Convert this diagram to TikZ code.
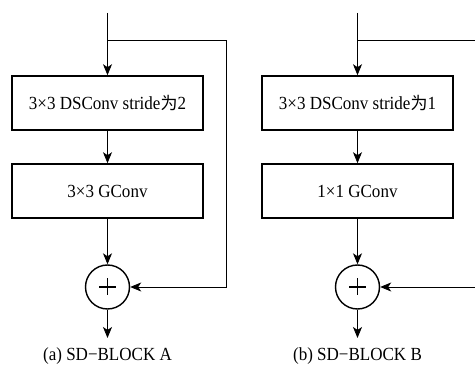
\documentclass[tikz,border=0pt]{standalone}
\usepackage{fontspec}
\setmainfont[FakeStretch=0.92]{Liberation Serif}
\newfontfamily\cjk{Noto Sans CJK SC}
\usetikzlibrary{arrows.meta}

\newcommand{\wei}{{\cjk\fontsize{17}{21}\selectfont 为}}

\begin{document}
\begin{tikzpicture}[x=1pt,y=-1pt,
		convbox/.style={draw, line width=1.6pt, minimum width=191pt, minimum height=54pt, inner sep=0pt, font=\fontsize{18.5}{21}\selectfont},
		addnode/.style={draw, circle, line width=1.4pt, minimum size=44pt, inner sep=0pt},
		wire/.style={line width=0.8pt},
		flow/.style={wire, -{Stealth[length=11pt,width=9pt,inset=3pt]}},
		caption/.style={font=\fontsize{18.5}{21}\selectfont}
		]
		\useasboundingbox (0,0) rectangle (475,366);
		
		% (a) SD-BLOCK A
		\coordinate (inA) at (107.5,13);
		\coordinate (forkA) at (107.5,40);
		\coordinate (cornerA) at (226,40);
		\coordinate (outA) at (107.5,338);
		\node[convbox] (dsA) at (107.5,103) {3×3 DSConv stride\wei2};
		\node[convbox] (gA) at (107.5,191) {3×3 GConv};
		\node[addnode] (sumA) at (107.5,287) {};
		\draw[line width=1.4pt] (sumA.center) +(-8.5,0) -- +(8.5,0) (sumA.center) +(0,-8.5) -- +(0,8.5);
		\draw[wire] (inA) -- (forkA);
		\draw[flow] (forkA) -- (dsA);
		\draw[flow] (dsA) -- (gA);
		\draw[flow] (gA) -- (sumA);
		\draw[flow] (forkA) -- (cornerA) |- (sumA);
		\draw[flow] (sumA) -- (outA);
		\node[caption] (capA) at (107.5,356) {(a) SD−BLOCK A};
		
		% (b) SD-BLOCK B
		\coordinate (inB) at (357.5,13);
		\coordinate (forkB) at (357.5,40);
		\coordinate (cornerB) at (482,40);
		\coordinate (outB) at (357.5,338);
		\node[convbox] (dsB) at (357.5,103) {3×3 DSConv stride\wei1};
		\node[convbox] (gB) at (357.5,191) {1×1 GConv};
		\node[addnode] (sumB) at (357.5,287) {};
		\draw[line width=1.4pt] (sumB.center) +(-8.5,0) -- +(8.5,0) (sumB.center) +(0,-8.5) -- +(0,8.5);
		\draw[wire] (inB) -- (forkB);
		\draw[flow] (forkB) -- (dsB);
		\draw[flow] (dsB) -- (gB);
		\draw[flow] (gB) -- (sumB);
		\draw[flow] (forkB) -- (cornerB) |- (sumB);
		\draw[flow] (sumB) -- (outB);
		\node[caption] (capB) at (357.5,356) {(b) SD−BLOCK B};
\end{tikzpicture}
\end{document}
